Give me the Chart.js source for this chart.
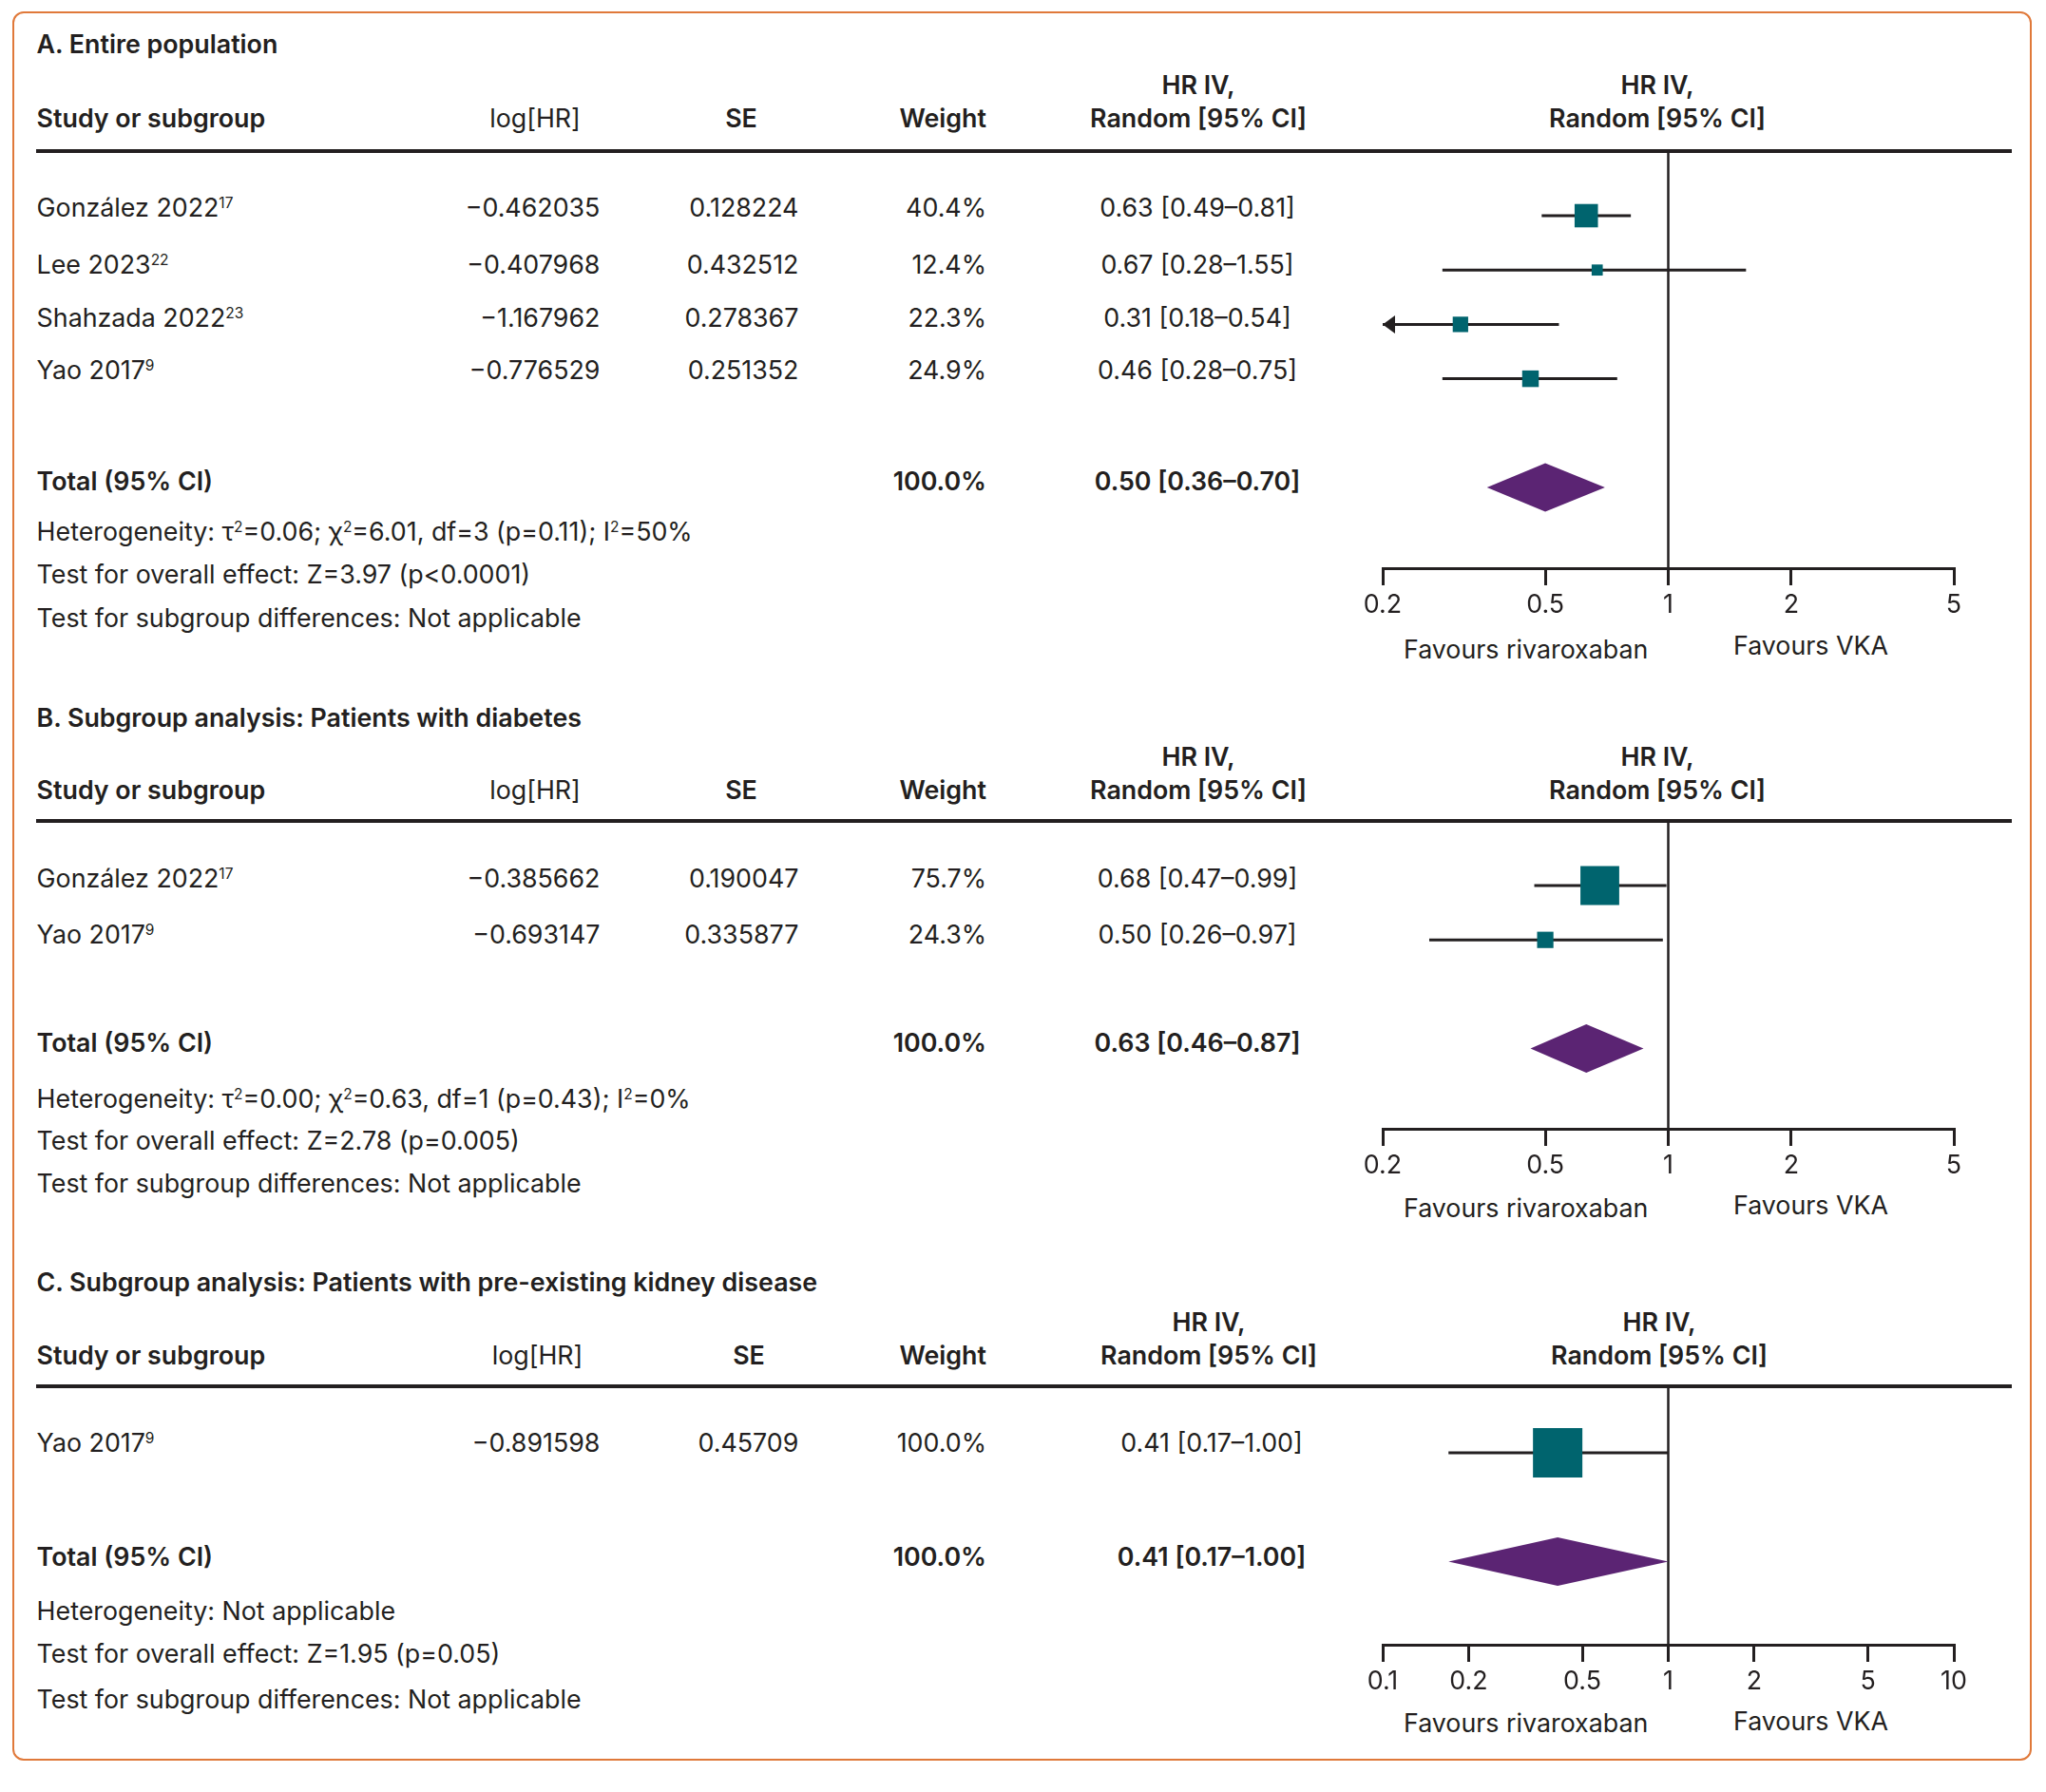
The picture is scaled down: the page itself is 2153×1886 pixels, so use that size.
<!DOCTYPE html>
<html>
<head>
<meta charset="utf-8">
<script src="https://cdn.jsdelivr.net/npm/chart.js@4.4.0/dist/chart.umd.min.js"></script>
<style>
html,body{margin:0;padding:0;background:#fff;}
body{width:2153px;height:1886px;position:relative;overflow:hidden;font-family:Inter,"Noto Sans",sans-serif;color:#231f20;}
#frame{position:absolute;left:13px;top:12px;width:2125px;height:1841px;border:2.5px solid #E0793A;border-radius:12px;box-sizing:border-box;}
.t{position:absolute;white-space:nowrap;font-size:26.8px;line-height:26.8px;transform:translateY(-50%);}
.t.r{transform:translate(-100%,-50%);}
.t.c{transform:translate(-50%,-50%);}
.b{font-weight:600;}
.sp{font-size:15.5px;position:relative;top:-9px;line-height:0;font-weight:400;}
.hl{position:absolute;height:3.5px;background:#231f20;}
canvas{position:absolute;}
</style>
</head>
<body>
<div id="frame"></div>
<script>
// ---------------- data ----------------
const ticksAB = [0.2, 0.5, 1, 2, 5];
const ticksC = [0.1, 0.2, 0.5, 1, 2, 5, 10];

const aStudies = ['González 2022', 'Lee 2023', 'Shahzada 2022', 'Yao 2017'];
const aRefs = ['17', '22', '23', '9'];
const aLogHR = [-0.462035, -0.407968, -1.167962, -0.776529];
const aSE = [0.128224, 0.432512, 0.278367, 0.251352];
const aWeight = [40.4, 12.4, 22.3, 24.9];
const aHR = [0.63, 0.67, 0.31, 0.46];
const aLow = [0.49, 0.28, 0.18, 0.28];
const aHigh = [0.81, 1.55, 0.54, 0.75];
const aTotal = [0.50, 0.36, 0.70];
const aFooter = [
  'Heterogeneity: τ<span class="sp">2</span>=0.06; χ<span class="sp">2</span>=6.01, df=3 (p=0.11); I<span class="sp">2</span>=50%',
  'Test for overall effect: Z=3.97 (p&lt;0.0001)',
  'Test for subgroup differences: Not applicable'
];

const bStudies = ['González 2022', 'Yao 2017'];
const bRefs = ['17', '9'];
const bLogHR = [-0.385662, -0.693147];
const bSE = [0.190047, 0.335877];
const bWeight = [75.7, 24.3];
const bHR = [0.68, 0.50];
const bLow = [0.47, 0.26];
const bHigh = [0.99, 0.97];
const bTotal = [0.63, 0.46, 0.87];
const bFooter = [
  'Heterogeneity: τ<span class="sp">2</span>=0.00; χ<span class="sp">2</span>=0.63, df=1 (p=0.43); I<span class="sp">2</span>=0%',
  'Test for overall effect: Z=2.78 (p=0.005)',
  'Test for subgroup differences: Not applicable'
];

const cStudies = ['Yao 2017'];
const cRefs = ['9'];
const cLogHR = [-0.891598];
const cSE = [0.45709];
const cWeight = [100.0];
const cHR = [0.41];
const cLow = [0.17];
const cHigh = [1.00];
const cTotal = [0.41, 0.17, 1.00];
const cFooter = [
  'Heterogeneity: Not applicable',
  'Test for overall effect: Z=1.95 (p=0.05)',
  'Test for subgroup differences: Not applicable'
];

const titles = ['A. Entire population', 'B. Subgroup analysis: Patients with diabetes', 'C. Subgroup analysis: Patients with pre-existing kidney disease'];

// ---------------- layout ----------------
const INK = '#231f20', TEAL = '#00646e', PURPLE = '#5b2473';
const FONT = 'Inter', FSIZE = 26.8;
const ROW = 57.2;           // px per row
const DIAMOND_H = 25.5;     // px half height
const panels = [
  {title: titles[0], studies: aStudies, refs: aRefs, logHR: aLogHR, se: aSE, weight: aWeight, hr: aHR, low: aLow, high: aHigh, total: aTotal, footer: aFooter, ticks: ticksAB,
   L: {title: 46, h1: 89, h2: 124, line: 159, rows: [218, 277.5, 334, 389], total: 505.5, foot: [558.5, 604, 650], row0: 227, axis: 598, fav: [683, 679], xLog: 563, xSE: 780, xHR: 1261, xHRv: 1260, xF: 1744}},
  {title: titles[1], studies: bStudies, refs: bRefs, logHR: bLogHR, se: bSE, weight: bWeight, hr: bHR, low: bLow, high: bHigh, total: bTotal, footer: bFooter, ticks: ticksAB,
   L: {title: 755, h1: 796, h2: 831, line: 864, rows: [924, 983], total: 1097, foot: [1156, 1200, 1245], row0: 932, axis: 1188, fav: [1271, 1268], xLog: 563, xSE: 780, xHR: 1261, xHRv: 1260, xF: 1744}},
  {title: titles[2], studies: cStudies, refs: cRefs, logHR: cLogHR, se: cSE, weight: cWeight, hr: cHR, low: cLow, high: cHigh, total: cTotal, footer: cFooter, ticks: ticksC,
   L: {title: 1349, h1: 1391, h2: 1426, line: 1459, rows: [1517.5], total: 1637.5, foot: [1694.5, 1740, 1787.5], row0: 1529, axis: 1731, fav: [1813, 1811], xLog: 565.5, xSE: 788, xHR: 1272, xHRv: 1275, xF: 1746}}
];

const X_STUDY = 38.6, X_LOG_R = 631.4, X_SE_R = 840.4, X_W_R = 1038;
const PLOT_L = 1455, PLOT_R = 2056, PAD_X = 45, PAD_TOP = 10, AXIS_H = 62;

function txt(html, x, y, cls) {
  const d = document.createElement('div');
  d.className = 't ' + (cls || '');
  d.style.left = x + 'px';
  d.style.top = y + 'px';
  d.innerHTML = html;
  document.body.appendChild(d);
  return d;
}
const fmtNeg = v => String(v).replace('-', '−');
const fmtCI = (e, l, h) => e.toFixed(2) + ' [' + l.toFixed(2) + '–' + h.toFixed(2) + ']';

const arrowPlugin = {
  id: 'arrows',
  afterDatasetsDraw(chart) {
    const xs = chart.scales.x, ys = chart.scales.y, ctx = chart.ctx;
    const p = chart.config.options.plugins.arrows;
    p.low.forEach((lo, i) => {
      if (lo < xs.min) {
        const px = xs.getPixelForValue(xs.min), py = ys.getPixelForValue(i);
        ctx.save();
        ctx.fillStyle = INK;
        ctx.beginPath();
        ctx.moveTo(px, py);
        ctx.lineTo(px + 13, py - 9.5);
        ctx.lineTo(px + 13, py + 9.5);
        ctx.closePath();
        ctx.fill();
        ctx.restore();
      }
    });
  }
};

panels.forEach(P => {
  const L = P.L;
  // title & headers
  txt(P.title, X_STUDY, L.title, 'b');
  txt('Study or subgroup', X_STUDY, L.h2, 'b');
  txt('log[HR]', L.xLog, L.h2, 'c');
  txt('SE', L.xSE, L.h2, 'c b');
  txt('Weight', X_W_R, L.h2, 'r b');
  txt('HR IV,', L.xHR, L.h1, 'c b');
  txt('Random [95% CI]', L.xHR, L.h2, 'c b');
  txt('HR IV,', L.xF, L.h1, 'c b');
  txt('Random [95% CI]', L.xF, L.h2, 'c b');
  const hl = document.createElement('div');
  hl.className = 'hl';
  hl.style.left = '38px'; hl.style.width = (2117 - 38) + 'px'; hl.style.top = (L.line - 1.75) + 'px';
  document.body.appendChild(hl);
  // study rows
  P.studies.forEach((s, i) => {
    const y = L.rows[i];
    txt(s + '<span class="sp">' + P.refs[i] + '</span>', X_STUDY, y);
    txt(fmtNeg(P.logHR[i]), X_LOG_R, y, 'r');
    txt(String(P.se[i]), X_SE_R, y, 'r');
    txt(P.weight[i].toFixed(1) + '%', X_W_R, y, 'r');
    txt(fmtCI(P.hr[i], P.low[i], P.high[i]), L.xHRv, y, 'c');
  });
  txt('Total (95% CI)', X_STUDY, L.total, 'b');
  txt(P.weight.reduce((a, b) => a + b, 0).toFixed(1) + '%', X_W_R, L.total, 'r b');
  txt(fmtCI(P.total[0], P.total[1], P.total[2]), L.xHRv, L.total, 'c b');
  P.footer.forEach((f, i) => txt(f, X_STUDY, L.foot[i]));
  txt('Favours rivaroxaban', 1477, L.fav[0]);
  txt('Favours VKA', 1824, L.fav[1]);

  // chart
  const cv = document.createElement('canvas');
  const H = PAD_TOP + (L.axis - L.line) + AXIS_H;
  const W = (PLOT_R - PLOT_L) + 2 * PAD_X;
  cv.width = W; cv.height = H;
  cv.style.left = (PLOT_L - PAD_X) + 'px';
  cv.style.top = (L.line - PAD_TOP) + 'px';
  document.body.appendChild(cv);

  const yMin = -(L.row0 - L.line) / ROW;
  const yMax = yMin + (L.axis - L.line) / ROW;
  const totalRow = P.studies.length + 1;
  const dh = DIAMOND_H / ROW;

  const datasets = [];
  datasets.push({
    type: 'scatter', order: 0,
    data: P.hr.map((v, i) => ({x: v, y: i})),
    pointStyle: 'rect',
    pointRadius: P.weight.map(w => (6 + 0.46 * w) / Math.SQRT2),
    backgroundColor: TEAL, borderWidth: 0
  });
  P.low.forEach((lo, i) => {
    datasets.push({
      type: 'line', order: 1, clip: 0,
      data: [{x: lo, y: i}, {x: P.high[i], y: i}],
      borderColor: INK, borderWidth: 3, pointRadius: 0, fill: false
    });
  });
  const [te, tl, th] = P.total;
  datasets.push({
    type: 'line', order: 1,
    data: [{x: tl, y: totalRow}, {x: te, y: totalRow - dh}, {x: th, y: totalRow}, {x: te, y: totalRow + dh}, {x: tl, y: totalRow}],
    borderWidth: 0, borderColor: 'rgba(0,0,0,0)', backgroundColor: PURPLE, fill: 'shape', pointRadius: 0, tension: 0
  });
  datasets.push({
    type: 'line', order: 2, clip: 0,
    data: [{x: 1, y: yMin}, {x: 1, y: yMax}],
    borderColor: INK, borderWidth: 2.5, pointRadius: 0, fill: false
  });

  new Chart(cv, {
    type: 'scatter',
    data: {datasets},
    plugins: [arrowPlugin],
    options: {
      responsive: false, animation: false, events: [],
      layout: {autoPadding: false, padding: {left: PAD_X, right: PAD_X, top: PAD_TOP, bottom: 0}},
      plugins: {legend: {display: false}, tooltip: {enabled: false}, arrows: {low: P.low}},
      scales: {
        x: {
          type: 'logarithmic', min: P.ticks[0], max: P.ticks[P.ticks.length - 1],
          afterBuildTicks: s => { s.ticks = P.ticks.map(v => ({value: v})); },
          afterFit: s => { s.height = AXIS_H; },
          ticks: {autoSkip: false, maxRotation: 0, minRotation: 0, padding: 5, color: INK,
                  font: {family: FONT, size: FSIZE}, callback: v => String(v)},
          grid: {drawOnChartArea: false, drawTicks: true, tickLength: 18, lineWidth: 3, color: INK},
          border: {display: true, width: 3, color: INK}
        },
        y: {type: 'linear', display: false, reverse: true, min: yMin, max: yMax}
      }
    }
  });
});
</script>
</body>
</html>
